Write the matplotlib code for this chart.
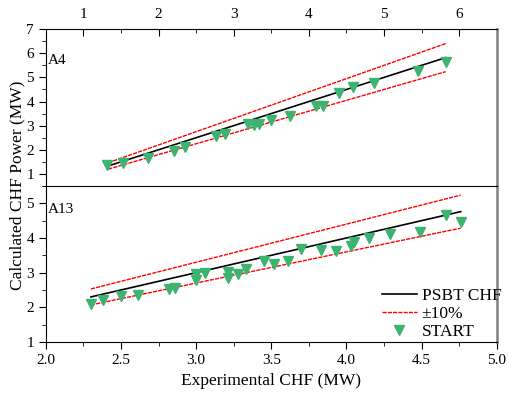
import matplotlib
matplotlib.use("Agg")
from matplotlib import pyplot as plt
from matplotlib.ticker import MultipleLocator
import numpy as np

plt.rcParams['font.family'] = ['Liberation Serif', 'DejaVu Serif']

# A4 case (top panel)
a4_exp = [1.32, 1.53, 1.865, 2.205, 2.35, 2.77, 2.88, 3.19, 3.27, 3.33,
          3.49, 3.75, 4.09, 4.19, 4.40, 4.59, 4.87, 5.45, 5.82]
a4_start = [1.375, 1.47, 1.64, 1.97, 2.10, 2.58, 2.65, 3.05, 3.04, 3.08,
            3.25, 3.42, 3.83, 3.83, 4.36, 4.60, 4.76, 5.26, 5.65]
a4_range = [1.33, 5.82]

# A13 case (bottom panel)
a13_exp = [2.30, 2.38, 2.50, 2.61, 2.82, 2.86, 3.00, 3.00, 3.06, 3.21, 3.21,
           3.28, 3.33, 3.45, 3.52, 3.61, 3.70, 3.83, 3.93, 4.03, 4.05, 4.15,
           4.29, 4.49, 4.66, 4.76]
a13_start = [2.09, 2.21, 2.33, 2.35, 2.53, 2.57, 2.95, 2.78, 2.99, 3.01, 2.84,
             2.97, 3.11, 3.33, 3.24, 3.35, 3.67, 3.66, 3.63, 3.78, 3.87, 4.00,
             4.11, 4.18, 4.67, 4.47]
a13_range = [2.30, 4.76]

green = '#3cb371'
dots = (0, (3, 0.8))

fig = plt.figure(figsize=(5.09, 3.94), dpi=100)
ax1 = fig.add_axes([0.090, 0.528, 0.886, 0.398])
ax2 = fig.add_axes([0.090, 0.132, 0.886, 0.396])


def draw(ax, xs, ys, rng):
    r = np.array(rng)
    ax.plot(r, r, color='black', lw=1.2, label='PSBT CHF')
    ax.plot(r, 1.1 * r, color='red', lw=1.0, ls=dots, label='\u00b110%')
    ax.plot(r, 0.9 * r, color='red', lw=1.0, ls=dots)
    ax.plot(xs, ys, 'v', color=green, ms=7, mec=green, label='START', zorder=3)
    ax.spines['right'].set_color('#808080')
    ax.spines['right'].set_linewidth(1.8)


draw(ax1, a4_exp, a4_start, a4_range)
draw(ax2, a13_exp, a13_start, a13_range)

# top panel
ax1.set_xlim(0.5, 6.5)
ax1.set_ylim(0.5, 7)
ax1.xaxis.tick_top()
ax1.xaxis.set_major_locator(MultipleLocator(1))
ax1.xaxis.set_minor_locator(MultipleLocator(0.5))
ax1.yaxis.set_major_locator(MultipleLocator(1))
ax1.yaxis.set_minor_locator(MultipleLocator(0.5))
ax1.tick_params(axis='x', which='both', direction='in', top=True, bottom=False,
                labelsize=11, pad=6)
ax1.tick_params(axis='x', which='major', length=5)
ax1.tick_params(axis='x', which='minor', length=3)
ax1.tick_params(axis='y', which='major', direction='out', length=5, labelsize=11)
ax1.tick_params(axis='y', which='minor', direction='out', length=3)
ax1.spines['bottom'].set_visible(False)
ax1.text(0.005, 0.80, 'A4', transform=ax1.transAxes, fontsize=11, va='center')

# bottom panel
ax2.set_xlim(2.0, 5.0)
ax2.set_ylim(1, 5.5)
ax2.xaxis.set_major_locator(MultipleLocator(0.5))
ax2.xaxis.set_minor_locator(MultipleLocator(0.25))
ax2.yaxis.set_major_locator(MultipleLocator(1))
ax2.yaxis.set_minor_locator(MultipleLocator(0.5))
ax2.tick_params(which='major', direction='out', length=5, labelsize=11)
ax2.tick_params(which='minor', direction='out', length=3)
ax2.set_xticks(np.arange(2.0, 5.01, 0.5))
ax2.set_xticklabels(['%.1f' % v for v in np.arange(2.0, 5.01, 0.5)])
ax2.text(0.005, 0.85, 'A13', transform=ax2.transAxes, fontsize=11, va='center')

ax2.legend(loc='lower left', bbox_to_anchor=(0.745, 0.012), frameon=False,
           fontsize=12.5, handlelength=2.0, handletextpad=0.3, labelspacing=0.12,
           borderaxespad=0, borderpad=0)

fig.text(0.035, 0.53, 'Calculated CHF Power (MW)', rotation=90, fontsize=12.5,
         ha='center', va='center')
fig.text(0.533, 0.033, 'Experimental CHF (MW)', fontsize=12.5,
         ha='center', va='center')

fig.savefig('out.png', dpi=100)
